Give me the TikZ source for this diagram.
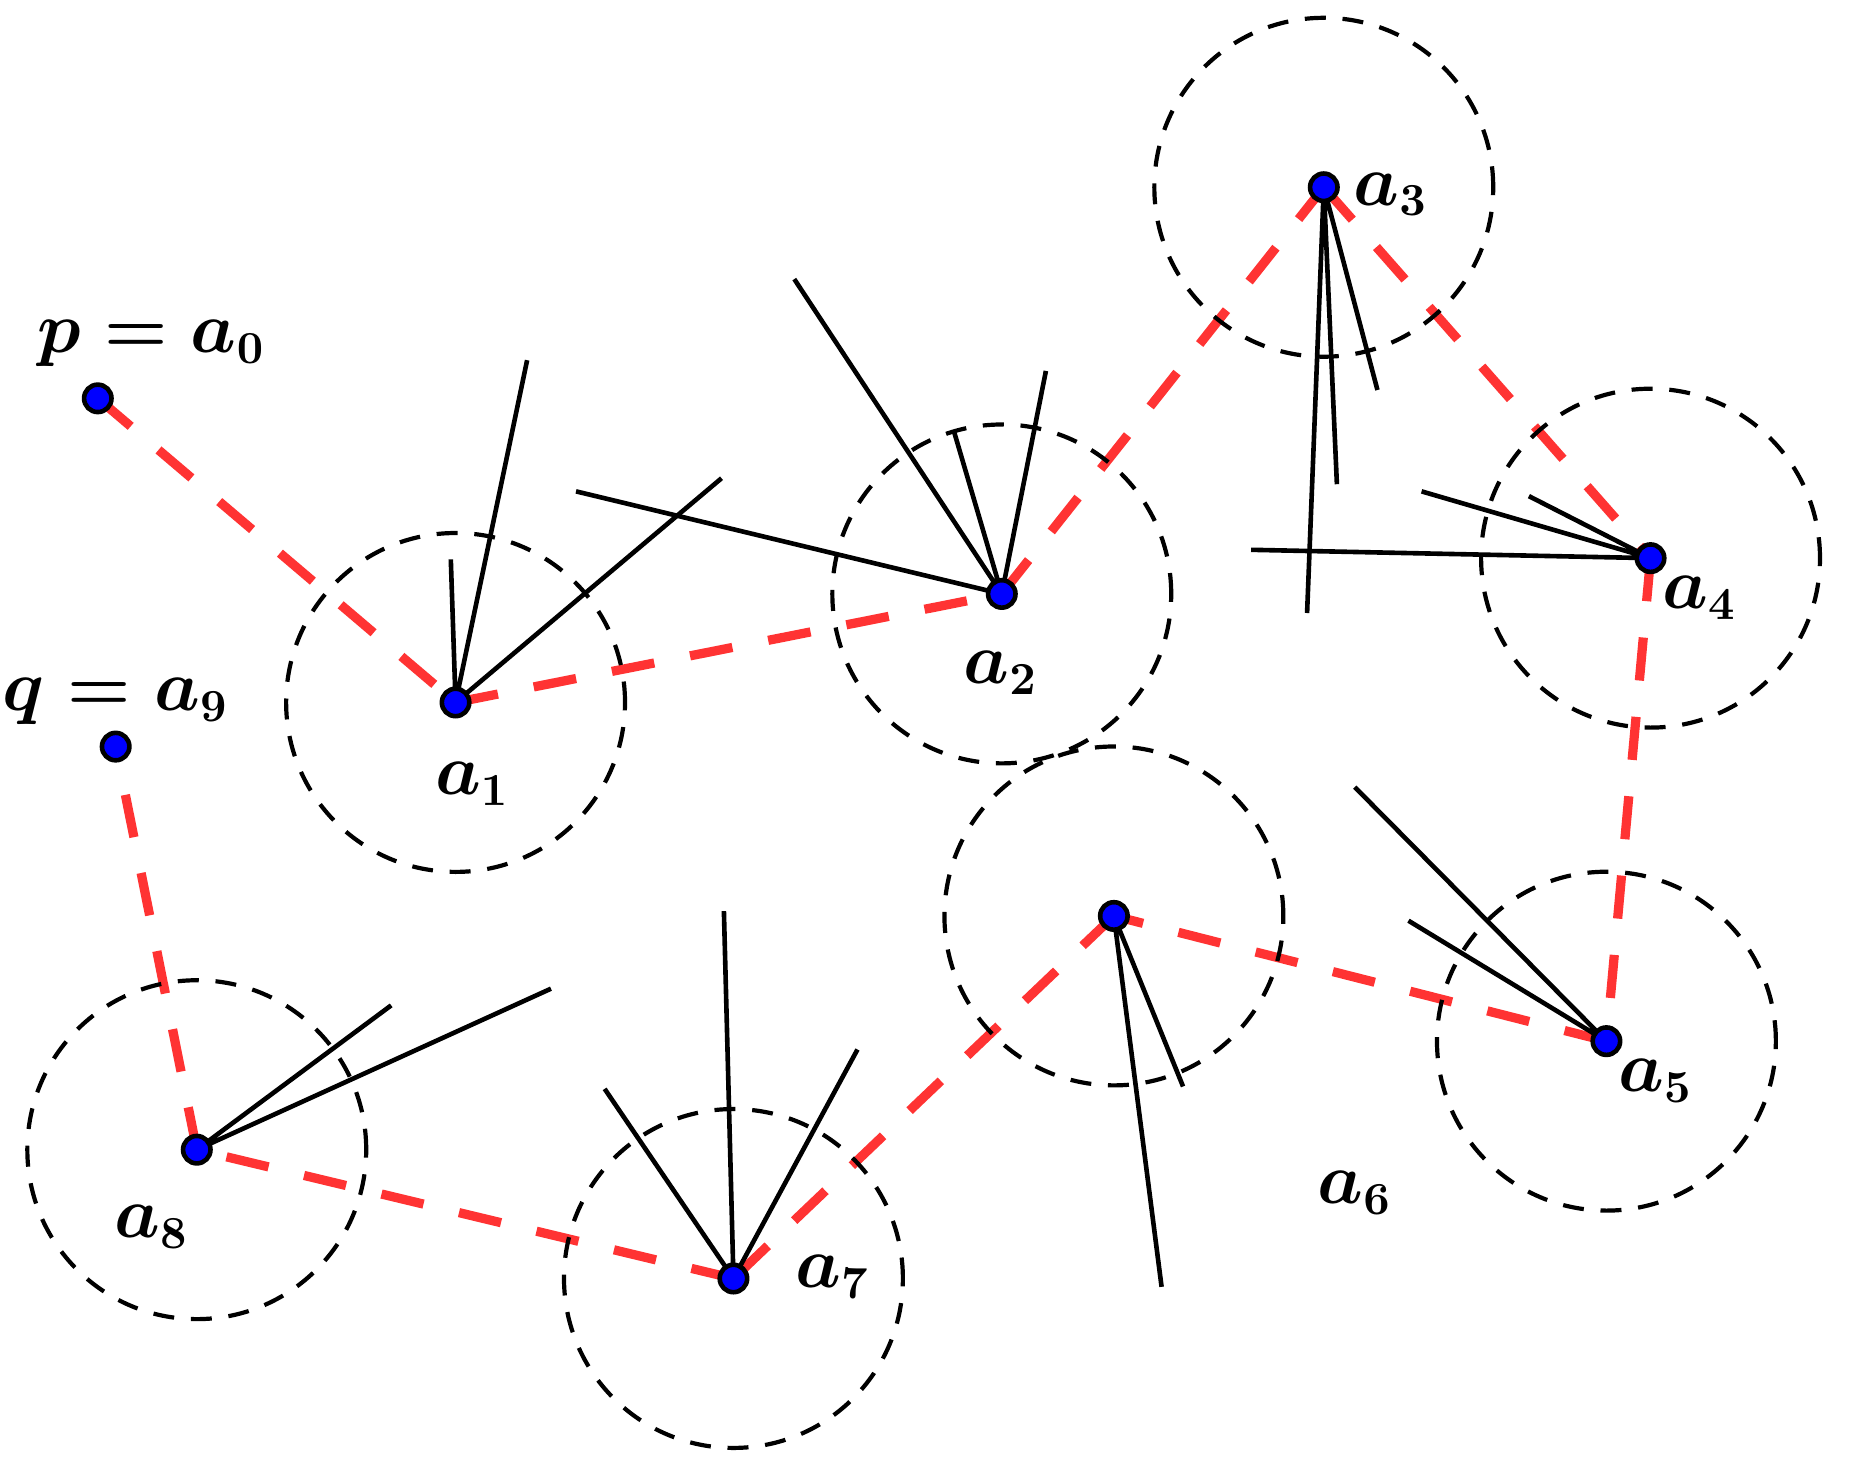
\documentclass[tikz,border=0pt]{standalone}
\usepackage{amsmath}
\usepackage{tikz}
\definecolor{walkred}{HTML}{FF3333}

\begin{document}
\begin{tikzpicture}[x=0.01cm,y=-0.01cm,
    pt/.style={circle, draw=black, fill=blue, line width=1.1pt, inner sep=0pt, minimum size=0.23cm},
    lbl/.style={inner sep=0pt, font=\fontsize{16.2}{19}\selectfont\boldmath},
    zone/.style={line width=1pt, dash pattern=on 5pt off 4pt},
    ray/.style={line width=1.1pt},
    walk/.style={walkred, line width=2.2pt, dash pattern=on 10.3pt off 8.7pt}]
    \useasboundingbox (0,0) rectangle (1568,1241);

    % Points of the walk
    \coordinate (a0) at (82,334);
    \coordinate (a1) at (382,589);
    \coordinate (a2) at (840,498);
    \coordinate (a3) at (1110,157);
    \coordinate (a4) at (1384,468);
    \coordinate (a5) at (1347,873);
    \coordinate (a6) at (934,768);
    \coordinate (a7) at (615,1072);
    \coordinate (a8) at (165,964);
    \coordinate (a9) at (97,626);

    % Walk
    \foreach \i [count=\j from 1] in {0,...,8}
        \draw[walk] (a\i) -- (a\j);

    % Neighbourhoods
    \foreach \i in {1,...,8}
        \draw[zone] (a\i) circle[radius=1.42cm];

    % Rays
    \draw[ray] (a1) -- (442,302) (a1) -- (378,469) (a1) -- (605,401);
    \draw[ray] (a2) -- (666,234) (a2) -- (800,362) (a2) -- (877,311) (a2) -- (483,412);
    \draw[ray] (a3) -- (1121,406) (a3) -- (1155,327) (a3) -- (1096,514);
    \draw[ray] (a4) -- (1192,412) (a4) -- (1282,416) (a4) -- (1049,461);
    \draw[ray] (a5) -- (1136,660) (a5) -- (1181,772);
    \draw[ray] (a6) -- (974,1079) (a6) -- (992,911);
    \draw[ray] (a7) -- (607,764) (a7) -- (507,913) (a7) -- (719,880);
    \draw[ray] (a8) -- (328,843) (a8) -- (462,829);

    % Dots
    \foreach \i in {0,...,9}
        \node[pt] (d\i) at (a\i) {};

    % Labels
    \node[lbl] (l0) at (127,288) {$p = a_0$};
    \node[lbl] (l9) at (97,588) {$q = a_9$};
    \node[lbl] (l1) at (396,657) {$a_1$};
    \node[lbl] (l2) at (839,564) {$a_2$};
    \node[lbl] (l3) at (1166,163) {$a_3$};
    \node[lbl] (l4) at (1425,501) {$a_4$};
    \node[lbl] (l5) at (1388,906) {$a_5$};
    \node[lbl] (l6) at (1136,1000) {$a_6$};
    \node[lbl] (l7) at (698,1071) {$a_7$};
    \node[lbl] (l8) at (127,1029) {$a_8$};
\end{tikzpicture}
\end{document}
